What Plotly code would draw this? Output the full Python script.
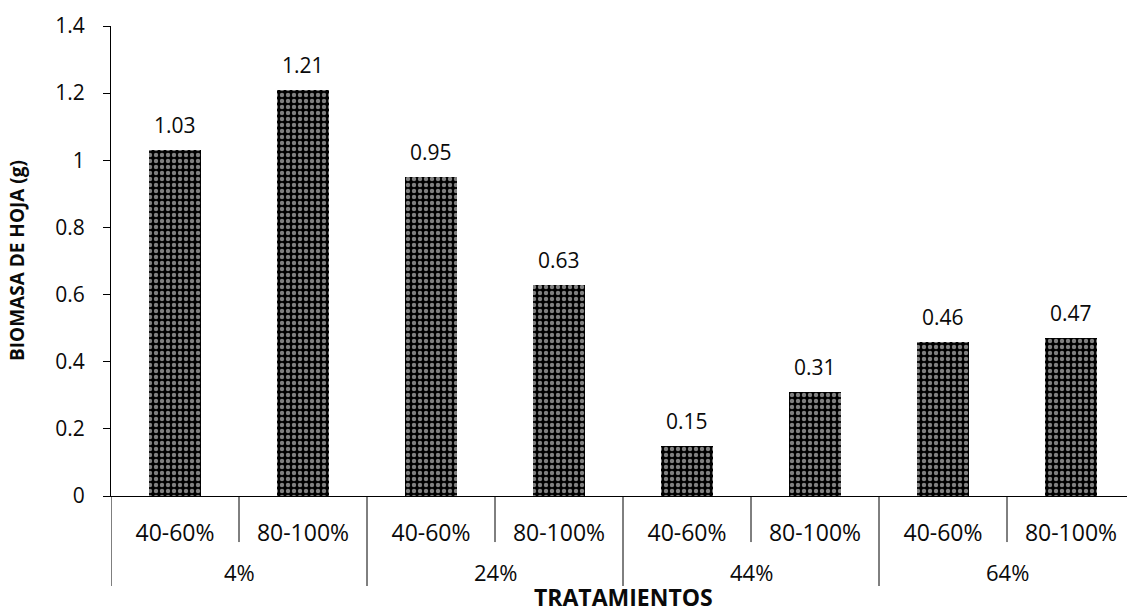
import plotly.graph_objects as go

# Treatment groups (outer level) and humidity ranges (inner level)
grupos = ["4%", "24%", "44%", "64%"]
rangos = ["40-60%", "80-100%", "40-60%", "80-100%", "40-60%", "80-100%", "40-60%", "80-100%"]
biomasa = [1.03, 1.21, 0.95, 0.63, 0.15, 0.31, 0.46, 0.47]

y_ticks = [0, 0.2, 0.4, 0.6, 0.8, 1, 1.2, 1.4]
x_range = [-0.5, 7.4375]

FONT = "Open Sans, DejaVu Sans, sans-serif"
INK = "#0a0a0a"

pos = list(range(len(rangos)))
per_group = len(rangos) // len(grupos)

fig = go.Figure()
fig.add_trace(go.Bar(
    x=pos,
    y=biomasa,
    width=0.41,
    marker=dict(
        color="#000000",
        line=dict(width=0),
        pattern=dict(shape=".", fgcolor="white", size=6, solidity=0.42),
    ),
    showlegend=False,
    hoverinfo="skip",
))

# Value labels above each bar
for i, v in zip(pos, biomasa):
    fig.add_annotation(
        x=i, y=v, xref="x", yref="y",
        text=f"{v:.2f}", showarrow=False,
        yanchor="bottom", yshift=9,
        font=dict(family=FONT, size=21, color=INK),
    )

# Short separators between the humidity ranges inside each group
for g in range(len(grupos)):
    xs = g * per_group + (per_group - 1) / 2
    fig.add_shape(
        type="line", xref="x", yref="paper",
        x0=xs, x1=xs, y0=0, y1=-0.098,
        line=dict(color="black", width=1),
    )

# Group dividers spanning both label rows, and the group labels
for g, name in enumerate(grupos):
    left = g * per_group - 0.5
    fig.add_shape(
        type="line", xref="x", yref="paper",
        x0=left, x1=left, y0=0, y1=-0.1915,
        line=dict(color="black", width=1),
    )
    fig.add_annotation(
        x=left + per_group / 2, y=-0.1617, xref="x", yref="paper",
        text=name, showarrow=False, yanchor="middle",
        font=dict(family=FONT, size=22, color=INK),
    )

fig.update_layout(
    width=1127, height=615,
    margin=dict(l=111, r=0, t=26, b=119),
    paper_bgcolor="white", plot_bgcolor="white",
    bargap=0,
    font=dict(family=FONT, color=INK),
    xaxis=dict(
        range=x_range,
        tickvals=pos, ticktext=rangos,
        showline=True, linecolor="black", linewidth=1,
        showgrid=False, zeroline=False, ticks="",
        ticklabelstandoff=16,
        tickfont=dict(family=FONT, size=23, color=INK),
    ),
    yaxis=dict(
        range=[0, 1.4],
        tickvals=y_ticks,
        showline=True, linecolor="black", linewidth=1,
        showgrid=False, zeroline=False,
        ticks="outside", ticklen=7, tickcolor="black",
        ticklabelstandoff=14,
        tickfont=dict(family=FONT, size=21, color=INK),
    ),
)

# Axis titles
fig.add_annotation(
    x=(17 - 111) / 1016, y=0.5, xref="paper", yref="paper",
    text="<b>BIOMASA DE HOJA (g)</b>", showarrow=False, textangle=-90,
    xanchor="center", yanchor="middle",
    font=dict(family="Open Sans, sans-serif", size=19, color=INK),
)
fig.add_annotation(
    x=(3.5 - x_range[0]) / (x_range[1] - x_range[0]), y=-0.215,
    xref="paper", yref="paper",
    text="<b>TRATAMIENTOS</b>", showarrow=False, yanchor="middle",
    font=dict(family=FONT, size=23, color=INK),
)

fig.write_html("out.html")
